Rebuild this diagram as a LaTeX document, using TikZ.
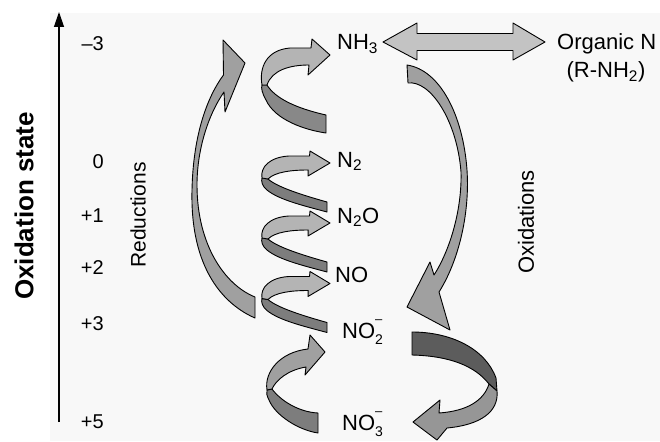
\documentclass[tikz,border=0pt]{standalone}
\usepackage{fontspec}
\setmainfont{Liberation Sans}
\usetikzlibrary{arrows.meta}
\definecolor{bgfill}{RGB}{248,248,248}
\definecolor{lightface}{RGB}{180,180,180}
\definecolor{midface}{RGB}{160,160,160}
\definecolor{backface}{RGB}{125,125,125}
\definecolor{darkface}{RGB}{92,92,92}
\definecolor{dblface}{RGB}{195,195,195}
\newcommand\ionsub[2]{\rlap{\raisebox{0.66em}{\fontsize{13}{13}\selectfont #2}}\raisebox{-0.3em}{\fontsize{14}{14}\selectfont #1}}
\tikzset{
  outl/.style={draw=black, line width=0.9pt, line join=round},
  lbl/.style={inner sep=0pt, font=\fontsize{22}{26}\selectfont},
  num/.style={inner sep=0pt, font=\fontsize{20}{24}\selectfont},
  loopback/.pic={
    \filldraw[outl, fill=backface] (0,-5) -- (0,5)
      .. controls (-22,-1) and (-48,-7) .. (-60,-17)
      .. controls (-65,-21) and (-66,-26) .. (-65,-29)
      -- (-59,-28) .. controls (-50,-20) and (-25,-12) .. (0,-5) -- cycle;
  },
  loopfront/.pic={
    \filldraw[outl, fill=lightface] (-65,-29)
      .. controls (-67,-40) and (-57,-50) .. (-38,-51)
      -- (-17.5,-51) -- (-17,-56) -- (3,-44) -- (-19,-31) -- (-18.8,-37)
      .. controls (-36,-37) and (-52,-35) .. (-59,-28) -- cycle;
  }
}
\begin{document}
\begin{tikzpicture}[x=1pt,y=-1pt]
\useasboundingbox (0,0) rectangle (660,441);
\fill[bgfill] (50,13) rectangle (660,441);

% axis
\coordinate (axisbot) at (59,422);
\coordinate (axistop) at (59,12);
\draw[line width=1.3pt, -{Triangle[width=10pt,length=15pt]}] (axisbot) -- (axistop);

% axis labels
\node[inner sep=0pt, font=\bfseries\fontsize{26}{30}\selectfont, rotate=90] (oxs) at (24,206) {Oxidation state};
\node[inner sep=0pt, font=\fontsize{21}{24}\selectfont, rotate=90] (red) at (138,215) {Reductions};
\node[inner sep=0pt, font=\fontsize{22}{26}\selectfont, rotate=90] (oxi) at (526,222) {Oxidations};

\node[num, anchor=base east] (vm3) at (104,51) {–3};
\node[num, anchor=base east] (v0) at (104,168) {0};
\node[num, anchor=base east] (v1) at (104,222) {+1};
\node[num, anchor=base east] (v2) at (104,274) {+2};
\node[num, anchor=base east] (v3) at (104,330) {+3};
\node[num, anchor=base east] (v5) at (104,428) {+5};

% species
\node[lbl, anchor=base west] (nh3) at (337,50) {NH\textsubscript{3}};
\node[lbl, anchor=base west] (n2) at (337,167) {N\textsubscript{2}};
\node[lbl, anchor=base west] (n2o) at (337,223) {N\textsubscript{2}O};
\node[lbl, anchor=base west] (no) at (335,282) {NO};
\node[lbl, anchor=base west] (no2) at (342,338) {NO\ionsub{2}{–}};
\node[lbl, anchor=base west] (no3) at (342,430) {NO\ionsub{3}{–}};
\node[lbl, anchor=base west] (orgn) at (557,50) {Organic N};
\node[lbl, anchor=base] (rnh2) at (606,78) {(R-NH\textsubscript{2})};

% double arrow NH3 <-> organic N
\filldraw[outl, fill=dblface] (383,42) -- (417,23) -- (417,33.5) -- (513,33.5) -- (513,23)
  -- (545,42) -- (513,60) -- (513,50.5) -- (417,50.5) -- (417,60) -- cycle;

% big left arc NO2- -> NH3
\filldraw[outl, fill=midface] (255,297) -- (255,318)
  .. controls (225,305) and (190,270) .. (192,190)
  .. controls (193,140) and (205,100) .. (223.5,75)
  -- (223,40) -- (245,63) -- (225,112) -- (224,92)
  .. controls (208,115) and (197,150) .. (197,185)
  .. controls (197,245) and (225,285) .. (255,297) -- cycle;

% helix: back strands
\filldraw[outl, fill=backface!80!lightface] (326,115) -- (326,133)
  .. controls (305,130) and (275,120) .. (266,100)
  .. controls (262,93) and (261,88) .. (262,85)
  -- (267,85) .. controls (275,98) and (295,108) .. (326,115) -- cycle;
\pic at (327,207) {loopback};
\pic at (327,267) {loopback};
\pic at (327,327.5) {loopback};
\filldraw[outl, fill=backface] (318,413) -- (318,433)
  .. controls (298,430) and (275,415) .. (269,400)
  .. controls (267,396) and (266,393) .. (267,390)
  -- (272,389) .. controls (280,400) and (298,412) .. (318,413) -- cycle;

% helix: front strands
\filldraw[outl, fill=lightface] (262,85)
  .. controls (259,68) and (266,50) .. (290,48)
  -- (311,48) -- (312,39) -- (330,55) -- (308,75) -- (309,65)
  .. controls (290,65) and (272,70) .. (267,85) -- cycle;
\pic at (327,207) {loopfront};
\pic at (327,267) {loopfront};
\pic at (327,327.5) {loopfront};
\filldraw[outl, fill=midface] (267,390)
  .. controls (264,372) and (280,352) .. (308,349)
  -- (310,335) -- (325,352) -- (305,375) -- (306,367)
  .. controls (288,370) and (276,380) .. (272,389) -- cycle;

% right oxidation arc NH3 -> NO2-
\filldraw[outl, fill=midface] (407,65) -- (408,83)
  .. controls (430,80) and (457,120) .. (461,172)
  .. controls (462,210) and (450,250) .. (434,275)
  -- (430,262) -- (407,307) -- (450,330) -- (439,292)
  .. controls (458,262) and (470,215) .. (467,170)
  .. controls (463,115) and (440,70) .. (407,65) -- cycle;

% NO2- -> NO3- ribbon
\filldraw[outl, fill=darkface] (412,332)
  .. controls (450,332) and (485,348) .. (496,378)
  -- (497,391) -- (489,384)
  .. controls (475,366) and (450,356) .. (412,355) -- cycle;
\filldraw[outl, fill=midface!85!darkface] (497,391)
  .. controls (499,412) and (480,425) .. (447,428)
  -- (437,440) -- (413,422) -- (440,400) -- (439,413)
  .. controls (468,411) and (484,400) .. (489,384) -- cycle;
\end{tikzpicture}
\end{document}
